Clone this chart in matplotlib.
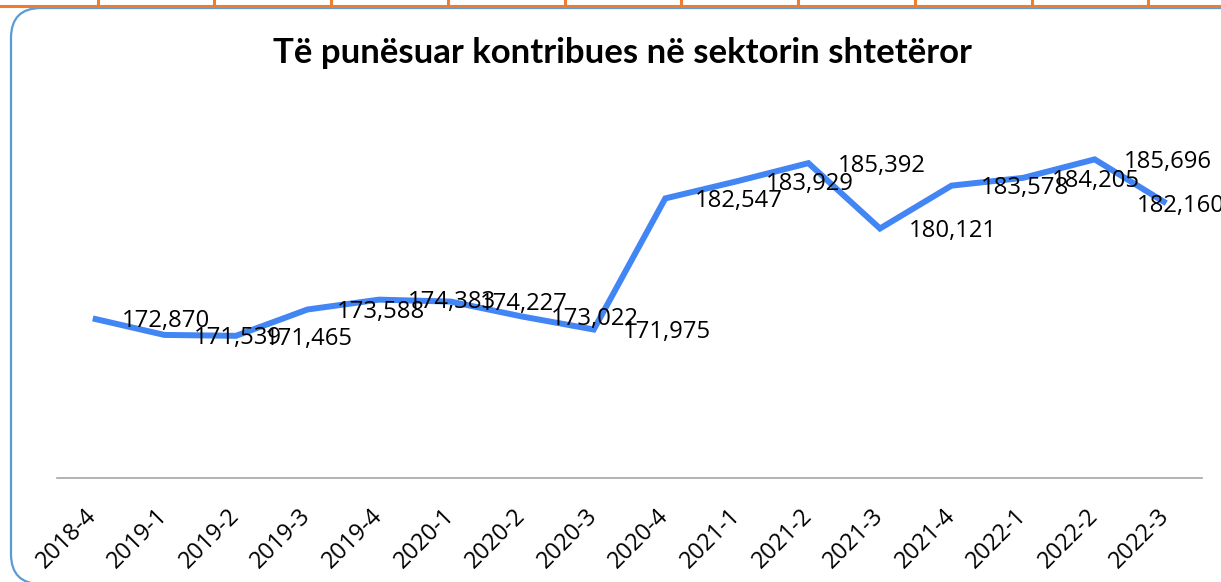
import matplotlib
matplotlib.use("Agg")
import matplotlib.pyplot as plt
from matplotlib.patches import FancyBboxPatch
from matplotlib.lines import Line2D
from matplotlib.transforms import IdentityTransform

# data
quarters = ["2018-4", "2019-1", "2019-2", "2019-3", "2019-4", "2020-1", "2020-2", "2020-3",
            "2020-4", "2021-1", "2021-2", "2021-3", "2021-4", "2022-1", "2022-2", "2022-3"]
employed = [172870, 171539, 171465, 173588, 174383, 174227, 173022, 171975,
            182547, 183929, 185392, 180121, 183578, 184205, 185696, 182160]
title = "Të punësuar kontribues në sektorin shtetëror"

W, H = 1221, 582
plt.rcParams['font.family'] = ['Open Sans', 'DejaVu Sans']

fig = plt.figure(figsize=(W / 100, H / 100), dpi=100)
fig.patch.set_facecolor("white")

# spreadsheet cell borders peeking at the top
px = IdentityTransform()
fig.lines.append(Line2D([0, W], [H - 5.5, H - 5.5], transform=px, color="#ED7D31", lw=2.2))
for xc in [98, 214, 331, 448, 565, 681, 798, 915, 1032, 1148]:
    fig.lines.append(Line2D([xc, xc], [H - 5.5, H], transform=px, color="#ED7D31", lw=2.2))

# rounded chart frame
frame = FancyBboxPatch((11, -2), 1260, H - 8 - 11 + 13, boxstyle="round,pad=0,rounding_size=30",
                       transform=px, facecolor="white", edgecolor="#5B9BD5", lw=1.6, zorder=-1)
fig.patches.append(frame)

ax = fig.add_axes([57 / W, (H - 478) / H, (1202 - 57) / W, (478 - 106) / H])
ax.set_facecolor("none")
x = list(range(len(quarters)))
ax.plot(x, employed, color="#4285F4", lw=4.3, solid_joinstyle="miter", solid_capstyle="butt",
        clip_on=False)

for xi, v in zip(x, employed):
    # the last label has no room on the right, so it sits on the left like in Excel
    dx = 21 if xi < len(quarters) - 1 else -21
    ax.annotate(f"{v:,}", (xi, v), xytext=(dx, -2), textcoords="offset points",
                ha="left", va="center", fontsize=17.2, color="black", annotation_clip=False)

ax.set_xlim(-0.5, len(quarters) - 0.5)
ax.set_ylim(160000, 190000)
ax.set_yticks([])
ax.set_xticks(x)
ax.set_xticklabels(quarters, rotation=45, ha="right", va="center", rotation_mode="anchor",
                   fontsize=16.8)
ax.tick_params(axis="x", length=0, pad=25)
for s in ["top", "left", "right"]:
    ax.spines[s].set_visible(False)
ax.spines["bottom"].set_color("#A6A6A6")
ax.spines["bottom"].set_linewidth(1.2)

fig.text(622 / W, 1 - 53 / H, title, ha="center", va="center", fontsize=25, fontweight="bold",
         family=["Lato", "DejaVu Sans"])

fig.savefig("out.png", dpi=100)
